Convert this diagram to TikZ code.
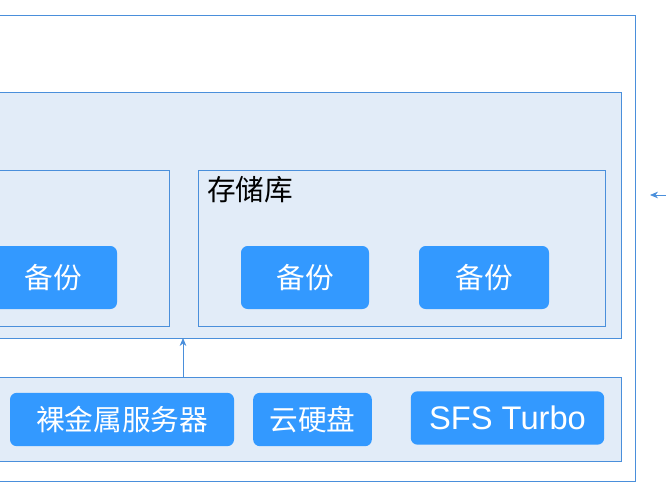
\documentclass[tikz,border=0pt]{standalone}
\usepackage{fontspec}
\setmainfont{Liberation Sans}
\newfontfamily\cjk{Noto Sans CJK SC}
\usetikzlibrary{positioning,arrows.meta}
\definecolor{edgeblue}{HTML}{4A8FDB}
\definecolor{paleblue}{HTML}{E2ECF8}
\definecolor{btnblue}{HTML}{3399FF}
\tikzset{
  panel/.style={draw=edgeblue,fill=paleblue,line width=0.6pt},
  btn/.style={fill=btnblue,rounded corners=5pt,text=white,font=\cjk\fontsize{21.5}{24}\selectfont,
    minimum height=47.25pt,inner sep=0pt},
  link/.style={draw=edgeblue,line width=0.6pt,-{Stealth[length=6pt,width=5pt]}}
}
\begin{document}
\begin{tikzpicture}[x=0.75pt,y=-0.75pt]
\useasboundingbox (0,0) rectangle (666,500);
\begin{scope}
  \clip (0,0) rectangle (666,500);
  % frames
  \draw[edgeblue,line width=0.6pt] (-20,15) rectangle (635,481);
  \draw[panel] (-20,92) rectangle (621,338);
  \draw[panel] (-20,170) rectangle (169,326);
  \draw[panel] (198,170) rectangle (605,326);
  \draw[panel] (-20,377) rectangle (621,461);
  \node[anchor=north west,inner sep=0pt,font=\cjk\fontsize{21.5}{24}\selectfont] (repo) at (207,176) {存储库};
  % backups
  \node[btn,minimum width=96pt] (bk0) at (53,277.5) {备份};
  \node[btn,minimum width=96pt] (bk1) at (305,277.5) {备份};
  \node[btn,minimum width=97.5pt] (bk2) at (484,277.5) {备份};
  % resources
  \node[btn,minimum width=168pt,minimum height=40pt] (bms) at (122,419.5) {裸金属服务器};
  \node[btn,minimum width=89pt,minimum height=40pt] (evs) at (312.5,419.5) {云硬盘};
  \node[btn,minimum width=145pt,minimum height=40pt,font=\fontsize{24.5}{26}\selectfont] (sfs) at (507.5,418) {SFS Turbo};
  % arrows
  \coordinate (up0) at (183,377);
  \coordinate (up1) at (183,338);
  \draw[link] (up0) -- (up1);
  \coordinate (in0) at (670,195);
  \coordinate (in1) at (650,195);
  \draw[link] (in0) -- (in1);
\end{scope}
\end{tikzpicture}
\end{document}
